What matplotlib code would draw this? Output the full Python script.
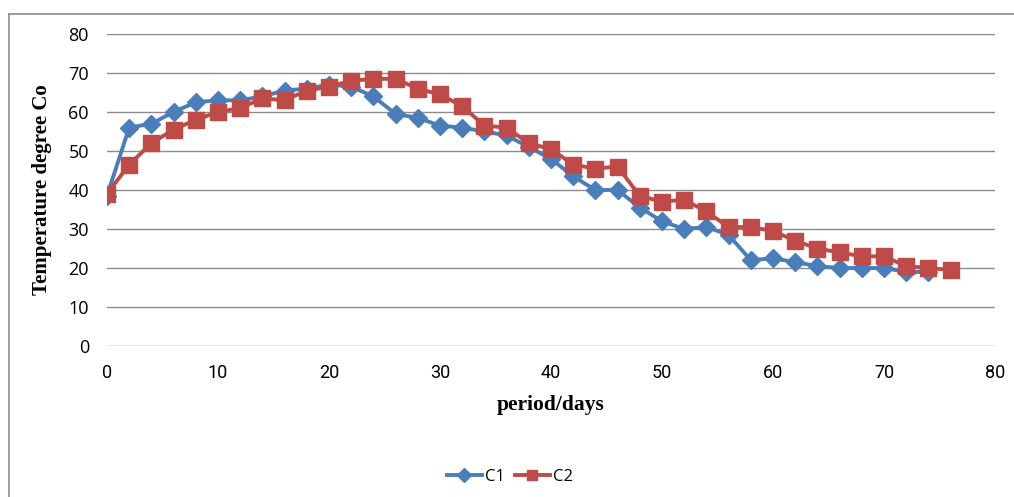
import matplotlib
matplotlib.use('Agg')
import matplotlib.pyplot as plt
from matplotlib.lines import Line2D

days_c1 = [0, 2, 4, 6, 8, 10, 12, 14, 16, 18, 20, 22, 24, 26, 28, 30, 32, 34, 36,
           38, 40, 42, 44, 46, 48, 50, 52, 54, 56, 58, 60, 62, 64, 66, 68, 70, 72, 74]
c1 = [38.5, 56, 57, 60, 62.5, 63, 63, 64, 65.5, 66, 67, 66.5, 64, 59.5, 58.5, 56.5,
      56, 55, 54, 51, 48, 43.5, 40, 40, 35.5, 32, 30, 30.5, 28.5, 22, 22.5, 21.5,
      20.5, 20, 20, 20, 19, 19]
days_c2 = days_c1 + [76]
c2 = [39, 46.5, 52, 55.5, 58, 60, 61, 63.5, 63, 65.5, 66.5, 68, 68.5, 68.5, 66,
      64.5, 61.5, 56.5, 56, 52, 50.5, 46.5, 45.5, 46, 38.5, 37, 37.5, 34.5, 30.5,
      30.5, 29.5, 27, 25, 24, 23, 23, 20.5, 20, 19.5]

x_ticks = [0, 10, 20, 30, 40, 50, 60, 70, 80]
y_ticks = [0, 10, 20, 30, 40, 50, 60, 70, 80]

fig = plt.figure(figsize=(10.14, 4.97), dpi=100)
ax = fig.add_axes([0.1055, 0.3038, 0.8757, 0.6278])

ax.plot(days_c1, c1, color='#4A7EBB', lw=2.8, marker='D', ms=9.5, label='C1', zorder=3)
ax.plot(days_c2, c2, color='#BE4B48', lw=2.8, marker='s', ms=11, label='C2', zorder=4)

ax.set_xlim(0, 80)
ax.set_ylim(0, 80)
ax.set_xticks(x_ticks)
ax.set_yticks(y_ticks)
ax.grid(axis='y', color='#8c8c8c', lw=1)
ax.set_axisbelow(True)
for s in ax.spines.values():
    s.set_visible(False)
ax.tick_params(axis='y', length=0, pad=13)
ax.tick_params(axis='x', length=0, pad=13)
for lab in ax.get_yticklabels():
    lab.set_fontfamily(['Open Sans', 'DejaVu Sans'])
    lab.set_fontsize(13)
for lab in ax.get_xticklabels():
    lab.set_fontfamily(['Liberation Sans Narrow', 'Roboto', 'DejaVu Sans'])
    lab.set_fontsize(13)

ax.set_xlabel('period/days', family='Liberation Serif', fontweight='bold',
              fontsize=15.5, labelpad=9)
ax.set_ylabel('Temperature degree Co', family='Liberation Serif', fontweight='bold',
              fontsize=15, labelpad=12)

fig.legend(loc='center', bbox_to_anchor=(0.503, 0.04), ncol=2, frameon=False,
           prop={'family': 'Open Sans', 'size': 12}, handlelength=2.1,
           columnspacing=0.6, handletextpad=0.2, markerscale=0.7)

# outer frame (left and top edge only visible)
fig.add_artist(Line2D([9 / 1014, 9 / 1014], [0, 1 - 14 / 497], color='#8c8c8c', lw=1.2,
                      transform=fig.transFigure))
fig.add_artist(Line2D([9 / 1014, 1], [1 - 14 / 497, 1 - 14 / 497], color='#8c8c8c', lw=1.2,
                      transform=fig.transFigure))

fig.savefig('out.png', dpi=100)
